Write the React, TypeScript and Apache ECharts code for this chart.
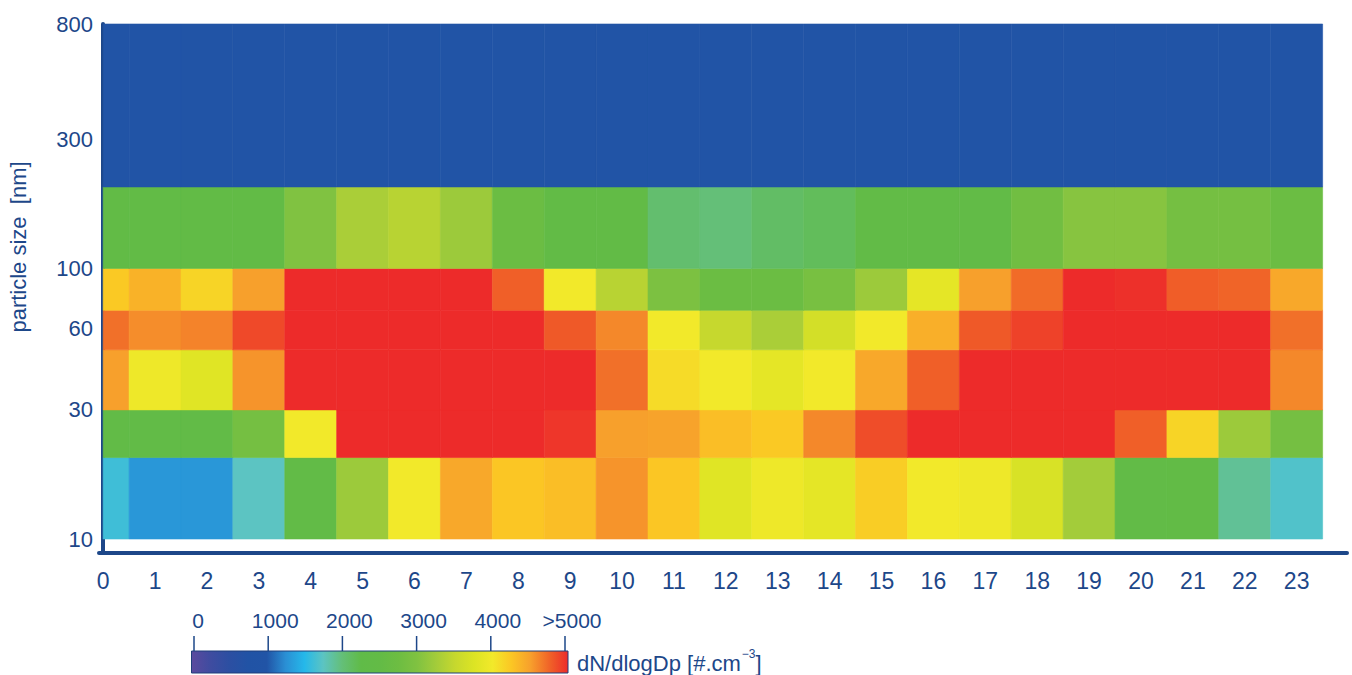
import React, { useEffect, useRef } from "react";
import * as echarts from "echarts";

// ---- data ----
const hours = [0, 1, 2, 3, 4, 5, 6, 7, 8, 9, 10, 11, 12, 13, 14, 15, 16, 17, 18, 19, 20, 21, 22, 23];
const sizeEdges = [10, 20, 30, 50, 70, 100, 200, 800]; // nm, bin edges
const yTickLabels = [10, 30, 60, 100, 300, 800];
const legendTicks = [0, 1000, 2000, 3000, 4000, 5000];
const legendLabels = ["0", "1000", "2000", "3000", "4000", ">5000"];

// dN/dlogDp per bin (rows bottom -> top), per hour
const bin10to20 = [1620, 1300, 1300, 1750, 2400, 3200, 4000, 4450, 4250, 4300, 4550, 4250, 3800, 3950, 3850, 4200, 4000, 3950, 3700, 3250, 2400, 2450, 1900, 1700];
const bin20to30 = [2400, 2400, 2400, 2850, 4000, 5000, 5000, 5000, 5000, 4950, 4500, 4480, 4300, 4230, 4600, 4850, 5000, 5000, 5000, 5000, 4770, 4150, 3200, 2850];
const bin30to50 = [4500, 3950, 3800, 4550, 5000, 5000, 5000, 5000, 5000, 5000, 4700, 4100, 4000, 3850, 4000, 4450, 4770, 5000, 5000, 5000, 5000, 5000, 5000, 4600];
const bin50to70 = [4700, 4580, 4620, 4870, 5000, 5000, 5000, 5000, 5000, 4800, 4600, 4000, 3500, 3300, 3650, 4000, 4400, 4800, 4900, 5000, 5000, 5000, 5000, 4700];
const bin70to100 = [4230, 4380, 4150, 4500, 5000, 5000, 5000, 5000, 4770, 4000, 3400, 2950, 2700, 2700, 2900, 3200, 3850, 4500, 4720, 5000, 4980, 4780, 4750, 4450];
const bin100to200 = [2450, 2450, 2450, 2450, 3000, 3300, 3400, 3200, 2700, 2450, 2450, 2050, 2000, 2100, 2150, 2400, 2400, 2400, 2800, 3050, 3050, 2850, 2850, 2700];
const bin200to800 = [960, 960, 950, 960, 960, 960, 960, 960, 960, 960, 950, 930, 930, 930, 930, 950, 960, 960, 960, 960, 960, 960, 960, 960];
const bins = [bin10to20, bin20to30, bin30to50, bin50to70, bin70to100, bin100to200, bin200to800];

// colour scale 0..5000, evenly spaced stops
const scaleColors = [
  "#5b4a9e", "#3f4ca0", "#2c4fa2", "#2153a5", "#2154a6",
  "#2a8fd4", "#25b8ea", "#5cc4c2", "#64bf78", "#60bb48",
  "#63bb46", "#6dbd42", "#80c241", "#a3cc3a", "#c6d82e",
  "#dce424", "#f2e92a", "#fbc624", "#f7a02c", "#f06428", "#ed2b2a",
];

const NAVY = "#1d4789";
const FONT = "'Liberation Sans', Arial, sans-serif";

export default function App() {
  const ref = useRef<HTMLDivElement>(null);

  useEffect(() => {
    if (!ref.current) return;
    const chart = echarts.init(ref.current, null, { renderer: "svg" });

    const data: number[][] = [];
    bins.forEach((row, r) => {
      row.forEach((v, i) => {
        data.push([hours[i], Math.log10(sizeEdges[r]), Math.log10(sizeEdges[r + 1]), v]);
      });
    });

    const yMax = Math.log10(800);
    const yMin = 1 - 14 / ((539 - 24) / (yMax - 1));

    // colour bar legend
    const barX = 191.5, barY = 651, barW = 376.5, barH = 22;
    const tickX = (v: number) => barX + 2.5 + (v / 5000) * (barW - 5.5);
    const legendGraphics: any[] = [
      {
        type: "text",
        x: 18,
        y: 247,
        rotation: Math.PI / 2,
        style: {
          text: "particle size  [nm]",
          fill: NAVY,
          font: `22px ${FONT}`,
          textAlign: "center",
          textVerticalAlign: "middle",
        },
      },
      {
        type: "rect",
        shape: { x: barX, y: barY, width: barW, height: barH },
        style: {
          fill: {
            type: "linear", x: 0, y: 0, x2: 1, y2: 0,
            colorStops: scaleColors.map((c, i) => ({ offset: i / (scaleColors.length - 1), color: c })),
          },
          stroke: "#1f3f7a",
          lineWidth: 1,
        },
      },
      ...legendTicks.map((t) => ({
        type: "line",
        shape: { x1: tickX(t), y1: 636, x2: tickX(t), y2: barY },
        style: { stroke: NAVY, lineWidth: 1.5 },
      })),
      ...legendTicks.map((t, i) => ({
        type: "text",
        x: tickX(t) + (i === 0 ? 4 : 7),
        y: 620,
        style: {
          text: legendLabels[i],
          fill: NAVY,
          font: `21px ${FONT}`,
          textAlign: "center",
          textVerticalAlign: "middle",
        },
      })),
      {
        type: "text",
        x: 577,
        y: 661,
        style: {
          text: "{a|dN/dlogDp [#.cm}{s|−3}{a|]}",
          textVerticalAlign: "middle",
          rich: {
            a: { fontSize: 22, fontFamily: FONT, fill: NAVY, color: NAVY, lineHeight: 26, verticalAlign: "bottom" },
            s: { fontSize: 12, fontFamily: FONT, fill: NAVY, color: NAVY, lineHeight: 26, verticalAlign: "top", padding: [0, 0, 0, 1] },
          },
        },
      },
    ];

    chart.setOption({
      animation: false,
      backgroundColor: "#ffffff",
      grid: { left: 99, top: 24, right: 5, bottom: 122, containLabel: false },
      xAxis: {
        type: "value",
        min: -0.08,
        max: 23.97,
        axisLine: { show: true, lineStyle: { color: NAVY, width: 4 } },
        axisTick: { show: false },
        splitLine: { show: false },
        axisLabel: {
          customValues: hours,
          color: NAVY,
          fontSize: 23,
          fontFamily: FONT,
          margin: 16,
        },
      },
      yAxis: {
        type: "value",
        min: yMin,
        max: yMax,
        axisLine: { show: true, lineStyle: { color: NAVY, width: 4 } },
        axisTick: { show: false },
        splitLine: { show: false },
        axisLabel: {
          customValues: yTickLabels.map((v) => Math.log10(v)),
          formatter: (v: number) => String(Math.round(Math.pow(10, v))),
          color: NAVY,
          fontSize: 22,
          fontFamily: FONT,
          margin: 6,
        },
      },
      visualMap: {
        type: "continuous",
        show: false,
        min: 0,
        max: 5000,
        dimension: 3,
        seriesIndex: 0,
        inRange: { color: scaleColors },
      },
      series: [
        {
          type: "custom",
          data,
          encode: { x: 0, y: [1, 2] },
          renderItem: (params: any, api: any) => {
            const h = api.value(0);
            const lo = api.value(1);
            const hi = api.value(2);
            const x0 = Math.max(h - 0.5, 0);
            const x1 = Math.min(h + 0.5, 23.5);
            const p0 = api.coord([x0, hi]);
            const p1 = api.coord([x1, lo]);
            const color = api.visual("color");
            return {
              type: "rect",
              shape: { x: p0[0], y: p0[1], width: p1[0] - p0[0], height: p1[1] - p0[1] },
              style: { fill: color, stroke: color, lineWidth: 0.6 },
            };
          },
        },
      ],
      graphic: legendGraphics,
    });

    return () => chart.dispose();
  }, []);

  return (
    <div
      ref={ref}
      style={{ position: "fixed", left: 0, top: 0, width: 1352, height: 675, background: "#fff" }}
    />
  );
}
